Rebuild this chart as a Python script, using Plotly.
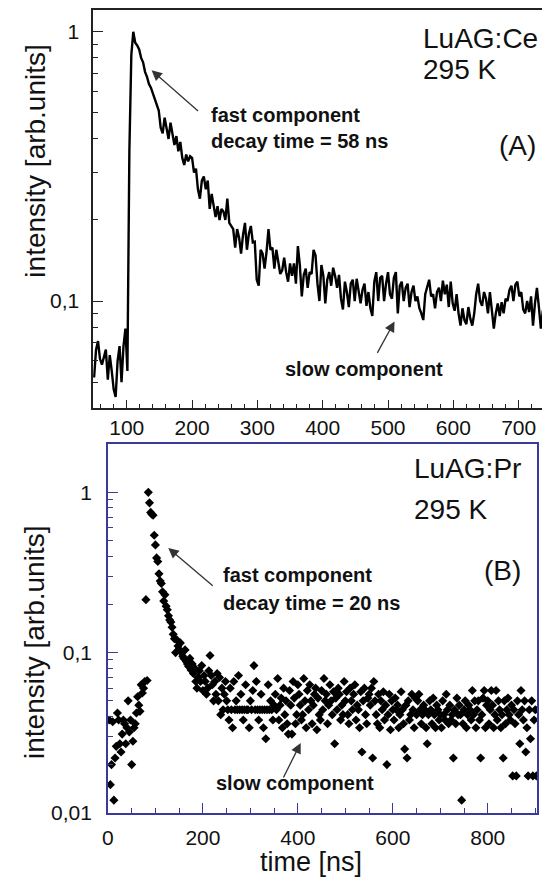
import math
import plotly.graph_objects as go

# (A) LuAG:Ce decay curve, one reading every 3 ns starting at 50 ns
CE_T0 = 50
CE_DT = 3
ce_intensity = [
    0.052, 0.066, 0.071, 0.061, 0.058, 0.062, 0.066, 0.051, 0.063, 0.055,
    0.047, 0.044, 0.060, 0.068, 0.050, 0.068, 0.079, 0.055, 0.36, 0.82,
    1.0, 0.91, 0.89, 0.86, 0.80, 0.77, 0.71, 0.68, 0.64, 0.62,
    0.59, 0.56, 0.53, 0.51, 0.44, 0.42, 0.48, 0.43, 0.40, 0.46,
    0.42, 0.38, 0.41, 0.36, 0.39, 0.34, 0.32, 0.35, 0.33, 0.345,
    0.34, 0.30, 0.31, 0.26, 0.24, 0.28, 0.29, 0.26, 0.28, 0.22,
    0.25, 0.23, 0.205, 0.225, 0.20, 0.22, 0.215, 0.20, 0.24, 0.195,
    0.19, 0.185, 0.158, 0.185, 0.172, 0.15, 0.176, 0.195, 0.155, 0.178,
    0.19, 0.165, 0.166, 0.12, 0.114, 0.155, 0.15, 0.132, 0.152, 0.185,
    0.155, 0.158, 0.132, 0.155, 0.14, 0.126, 0.13, 0.145, 0.128, 0.118,
    0.138, 0.124, 0.138, 0.116, 0.16, 0.136, 0.104, 0.125, 0.132, 0.112,
    0.128, 0.126, 0.155, 0.148, 0.116, 0.10, 0.136, 0.124, 0.098, 0.12,
    0.128, 0.114, 0.133, 0.124, 0.112, 0.125, 0.102, 0.093, 0.118, 0.108,
    0.095, 0.116, 0.12, 0.10, 0.121, 0.108, 0.098, 0.11, 0.116, 0.096,
    0.108, 0.094, 0.088, 0.118, 0.128, 0.10, 0.122, 0.124, 0.10, 0.116,
    0.128, 0.106, 0.102, 0.122, 0.128, 0.09, 0.114, 0.118, 0.10, 0.112,
    0.116, 0.095, 0.108, 0.114, 0.10, 0.104, 0.094, 0.09, 0.085, 0.106,
    0.114, 0.12, 0.104, 0.106, 0.094, 0.108, 0.112, 0.10, 0.119, 0.106,
    0.115, 0.095, 0.118, 0.098, 0.092, 0.106, 0.09, 0.081, 0.094, 0.085,
    0.082, 0.095, 0.086, 0.081, 0.09, 0.106, 0.116, 0.10, 0.096, 0.108,
    0.102, 0.09, 0.108, 0.094, 0.079, 0.09, 0.098, 0.088, 0.099, 0.09,
    0.102, 0.10, 0.11, 0.114, 0.10, 0.115, 0.118, 0.104, 0.108, 0.093,
    0.09, 0.10, 0.091, 0.104, 0.081, 0.098, 0.112, 0.095, 0.079, 0.092,
    0.096, 0.106, 0.104, 0.10,
]

# (B) LuAG:Pr decay points, one reading every 2.5 ns starting at 2.5 ns
PR_T0 = 2.5
PR_DT = 2.5
pr_intensity = [
    0.038, 0.015, 0.020, 0.037, 0.012, 0.022, 0.026, 0.042, 0.038, 0.027,
    0.024, 0.031, 0.038, 0.036, 0.027, 0.034, 0.050, 0.032, 0.038, 0.020,
    0.028, 0.034, 0.036, 0.042, 0.053, 0.047, 0.043, 0.063, 0.056, 0.060,
    0.066, 0.214, 0.067, 1.0, 0.86, 0.75, 0.73, 0.72, 0.54, 0.47,
    0.39, 0.37, 0.31, 0.28, 0.27, 0.24, 0.21, 0.23, 0.195, 0.185,
    0.17, 0.16, 0.155, 0.144, 0.13, 0.122, 0.10, 0.12, 0.11, 0.105,
    0.115, 0.10, 0.095, 0.092, 0.104, 0.088, 0.085, 0.082, 0.092, 0.078,
    0.085, 0.074, 0.080, 0.066, 0.060, 0.070, 0.077, 0.066, 0.083, 0.058,
    0.072, 0.066, 0.055, 0.060, 0.077, 0.096, 0.072, 0.063, 0.050, 0.066,
    0.055, 0.074, 0.050, 0.070, 0.041, 0.060, 0.044, 0.055, 0.066, 0.050,
    0.044, 0.038, 0.060, 0.044, 0.034, 0.066, 0.044, 0.050, 0.044, 0.072,
    0.044, 0.055, 0.044, 0.038, 0.044, 0.063, 0.044, 0.044, 0.034, 0.050,
    0.044, 0.058, 0.083, 0.044, 0.066, 0.044, 0.038, 0.044, 0.055, 0.044,
    0.034, 0.044, 0.029, 0.044, 0.063, 0.044, 0.050, 0.044, 0.038, 0.047,
    0.055, 0.044, 0.069, 0.038, 0.047, 0.052, 0.034, 0.060, 0.041, 0.050,
    0.036, 0.031, 0.058, 0.047, 0.031, 0.066, 0.052, 0.036, 0.041, 0.063,
    0.055, 0.047, 0.038, 0.041, 0.069, 0.050, 0.034, 0.058, 0.044, 0.063,
    0.050, 0.036, 0.047, 0.055, 0.060, 0.033, 0.052, 0.041, 0.038, 0.058,
    0.044, 0.069, 0.050, 0.055, 0.036, 0.047, 0.063, 0.050, 0.041, 0.057,
    0.027, 0.052, 0.044, 0.060, 0.055, 0.038, 0.047, 0.041, 0.066, 0.050,
    0.057, 0.041, 0.036, 0.060, 0.050, 0.044, 0.055, 0.063, 0.038, 0.047,
    0.044, 0.034, 0.057, 0.024, 0.050, 0.060, 0.041, 0.036, 0.052, 0.055,
    0.047, 0.060, 0.022, 0.066, 0.050, 0.041, 0.036, 0.055, 0.034, 0.050,
    0.044, 0.057, 0.038, 0.047, 0.020, 0.041, 0.055, 0.033, 0.050, 0.044,
    0.038, 0.052, 0.044, 0.047, 0.034, 0.041, 0.057, 0.044, 0.036, 0.025,
    0.047, 0.022, 0.050, 0.038, 0.041, 0.055, 0.044, 0.034, 0.052, 0.041,
    0.050, 0.055, 0.044, 0.036, 0.041, 0.047, 0.044, 0.034, 0.027, 0.041,
    0.050, 0.044, 0.036, 0.052, 0.041, 0.034, 0.047, 0.044, 0.038, 0.041,
    0.034, 0.050, 0.041, 0.038, 0.055, 0.044, 0.036, 0.047, 0.038, 0.041,
    0.022, 0.044, 0.036, 0.052, 0.041, 0.047, 0.041, 0.012, 0.036, 0.044,
    0.050, 0.034, 0.041, 0.047, 0.044, 0.038, 0.058, 0.041, 0.050, 0.034,
    0.044, 0.050, 0.038, 0.022, 0.041, 0.052, 0.058, 0.034, 0.047, 0.050,
    0.036, 0.044, 0.058, 0.047, 0.034, 0.041, 0.058, 0.038, 0.050, 0.044,
    0.034, 0.041, 0.022, 0.050, 0.036, 0.044, 0.052, 0.041, 0.038, 0.047,
    0.017, 0.044, 0.036, 0.017, 0.050, 0.041, 0.027, 0.058, 0.044, 0.038,
    0.050, 0.024, 0.034, 0.017, 0.044, 0.029, 0.050, 0.017, 0.038, 0.044,
    0.017, 0.044,
]

# the page body keeps an 8 px margin all round, so the figure is sized to fit
# inside it and every position below is given in page pixels
OFF = 8
W, H = 550 - OFF, 893 - 2 * OFF
FONT = "Liberation Sans, Arial, sans-serif"
BLUE = "#3a3a9e"

# minor tick positions on the log axes
minor_top = [0.05, 0.06, 0.07, 0.08, 0.09, 0.2, 0.3, 0.4, 0.5, 0.6, 0.7, 0.8, 0.9]
minor_bot = [0.02, 0.03, 0.04, 0.05, 0.06, 0.07, 0.08, 0.09,
             0.2, 0.3, 0.4, 0.5, 0.6, 0.7, 0.8, 0.9]


def px(x):
    return (x - OFF) / W


def py(y):
    return 1 - (y - OFF) / H


fig = go.Figure()

fig.add_trace(go.Scatter(
    x0=CE_T0, dx=CE_DT, y=ce_intensity,
    mode="lines", line=dict(color="black", width=2.4),
    xaxis="x", yaxis="y", showlegend=False,
))

fig.add_trace(go.Scatter(
    x0=PR_T0, dx=PR_DT, y=pr_intensity,
    mode="markers", marker=dict(symbol="diamond", size=7, color="black"),
    xaxis="x2", yaxis="y2", showlegend=False,
))

tickfont = dict(family=FONT, size=21, color="#111")

fig.update_layout(
    width=W, height=H,
    margin=dict(l=0, r=0, t=0, b=0),
    paper_bgcolor="white", plot_bgcolor="white",
    font=dict(family=FONT, color="#111"),
    xaxis=dict(
        domain=[px(88), 1.0], anchor="y", range=[48.5, 748],
        tickvals=[100, 200, 300, 400, 500, 600, 700],
        ticks="inside", ticklen=9, tickwidth=1.3, tickcolor="#222",
        minor=dict(dtick=20, tick0=0, ticks="inside", ticklen=5, tickcolor="#222"),
        showline=True, linecolor="#222", linewidth=1.5, mirror=True,
        showgrid=False, zeroline=False, tickfont=tickfont,
    ),
    yaxis=dict(
        domain=[py(413), py(9)], anchor="x", type="log", range=[-1.399, 0.081],
        tickvals=[0.1, 1], ticktext=["0,1", "1"],
        ticks="inside", ticklen=10, tickwidth=1.3, tickcolor="#222",
        minor=dict(tickvals=minor_top, ticks="inside", ticklen=5, tickcolor="#222"),
        showline=True, linecolor="#222", linewidth=1.5,
        showgrid=False, zeroline=False, tickfont=tickfont,
        ticklabelstandoff=8,
    ),
    xaxis2=dict(
        domain=[px(103), px(537)], anchor="y2", range=[0, 904],
        tickvals=[0, 200, 400, 600, 800],
        ticks="inside", ticklen=10, tickwidth=1.3, tickcolor=BLUE,
        minor=dict(dtick=50, tick0=0, ticks="inside", ticklen=5, tickcolor=BLUE),
        showline=True, linecolor=BLUE, linewidth=1.5, mirror=True,
        showgrid=False, zeroline=False, tickfont=tickfont,
        ticklabelstandoff=5,
    ),
    yaxis2=dict(
        domain=[py(823), py(449)], anchor="x2", type="log", range=[-2, 0.302],
        tickvals=[0.01, 0.1, 1], ticktext=["0,01", "0,1", "1"],
        ticks="inside", ticklen=10, tickwidth=1.3, tickcolor=BLUE,
        minor=dict(tickvals=minor_bot, ticks="inside", ticklen=5, tickcolor=BLUE),
        showline=True, linecolor=BLUE, linewidth=1.5, mirror=True,
        showgrid=False, zeroline=False, tickfont=tickfont,
        ticklabelstandoff=10,
    ),
)

ann = []


def label(text, x, y, size, xanchor="left", bold=False, angle=0):
    if bold:
        text = "<b>" + text + "</b>"
    ann.append(dict(
        text=text, x=px(x), y=py(y), xref="paper", yref="paper",
        xanchor=xanchor, yanchor="middle", showarrow=False, textangle=angle,
        font=dict(family=FONT, size=size, color="#111"),
    ))


def arrow(xref, yref, x, y, ax, ay):
    # log axes take annotation positions as log10 of the value
    ann.append(dict(
        text="", x=x, y=math.log10(y), xref=xref, yref=yref, ax=ax, ay=ay,
        showarrow=True, arrowhead=2, arrowsize=1.6, arrowwidth=1.3,
        arrowcolor="#333",
    ))


# panel A texts
label("intensity [arb.units]", 30, 162, 28, xanchor="center", angle=-90)
label("LuAG:Ce", 420, 38, 28)
label("295 K", 420, 69, 28)
label("(A)", 517, 146, 28, xanchor="center")
label("fast component", 205, 115, 20, bold=True)
label("decay time = 58 ns", 205, 142, 20, bold=True)
label("slow component", 280, 373, 20, bold=True)
arrow("x", "y", 138, 0.72, 48, 42)
arrow("x", "y", 510, 0.084, -18, 33)

# panel B texts
label("intensity [arb.units]", 28, 650, 28, xanchor="center", angle=-90)
label("LuAG:Pr", 410, 474, 28)
label("295 K", 410, 515, 28)
label("(B)", 502, 577, 28, xanchor="center")
label("fast component", 217, 582, 20, bold=True)
label("decay time = 20 ns", 217, 610, 20, bold=True)
label("slow component", 210, 793, 20, bold=True)
label("time [ns]", 308, 873, 27, xanchor="center")
arrow("x2", "y2", 127, 0.45, 46, 39)
arrow("x2", "y2", 406, 0.0273, -18, 36)

fig.update_layout(annotations=ann)

fig.write_html("out.html")
